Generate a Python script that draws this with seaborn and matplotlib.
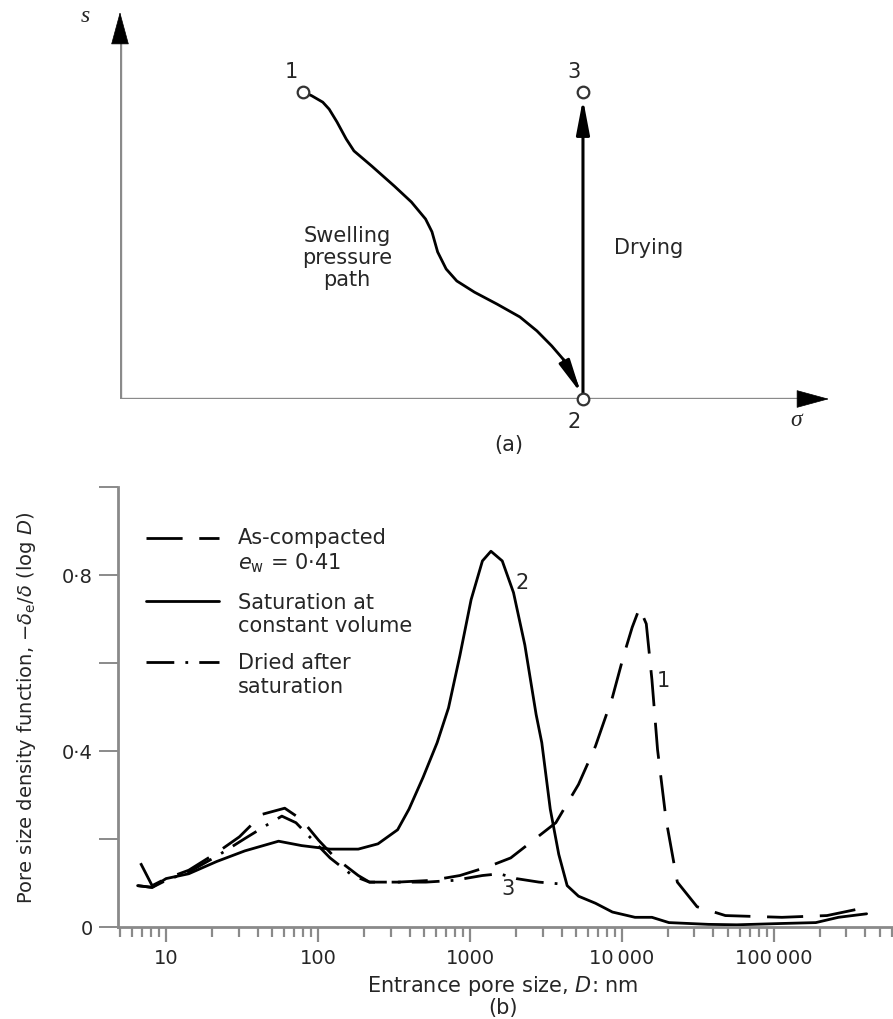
import numpy as np
import pandas as pd
import seaborn as sns
import matplotlib
matplotlib.use("Agg")
import matplotlib.pyplot as plt
from matplotlib.ticker import FixedLocator, FixedFormatter, LogLocator, NullFormatter
from matplotlib.legend_handler import HandlerLine2D

# ---- (a) swelling pressure / drying path, arbitrary units ----
path_sigma = [0.258, 0.270, 0.286, 0.295, 0.306, 0.319, 0.330, 0.355, 0.387, 0.411,
              0.431, 0.440, 0.448, 0.460, 0.475, 0.500, 0.532, 0.564, 0.588, 0.609,
              0.625, 0.637, 0.645]
path_s = [0.793, 0.784, 0.767, 0.749, 0.716, 0.672, 0.641, 0.602, 0.550, 0.509,
          0.465, 0.432, 0.380, 0.336, 0.305, 0.276, 0.245, 0.212, 0.176, 0.137,
          0.103, 0.070, 0.034]
point_names = ["1", "2", "3"]
point_sigma = [0.258, 0.653, 0.653]
point_s = [0.793, 0.0, 0.793]

# ---- (b) pore size density functions ----
d_compacted = [6.8, 8.1, 10, 14.1, 21.6, 30.4, 42.8, 60.4, 78, 101, 130, 184, 218, 334,
               558, 858, 1315, 1853, 2609, 3671, 5175, 6690, 8650, 10260, 11670, 13040,
               14450, 15740, 17140, 19500, 23130, 31200, 47900, 112800, 223400, 373000]
f_compacted = [0.145, 0.094, 0.110, 0.129, 0.169, 0.205, 0.256, 0.270, 0.244, 0.197,
               0.157, 0.117, 0.102, 0.102, 0.106, 0.117, 0.137, 0.157, 0.197, 0.237,
               0.324, 0.411, 0.522, 0.617, 0.681, 0.725, 0.689, 0.562, 0.403, 0.244,
               0.102, 0.046, 0.026, 0.022, 0.026, 0.042]

d_saturated = [6.5, 8.1, 10, 14.1, 21.6, 33, 55, 78, 120, 184, 248, 334, 397, 491, 608,
               722, 858, 1017, 1207, 1373, 1630, 1933, 2295, 2723, 2967, 3373, 3838,
               4358, 5175, 6690, 8650, 12180, 15740, 20360, 37070, 56900, 112800,
               188500, 265500, 407000]
f_saturated = [0.094, 0.090, 0.110, 0.121, 0.149, 0.173, 0.195, 0.185, 0.177, 0.177,
               0.189, 0.221, 0.268, 0.340, 0.419, 0.498, 0.617, 0.744, 0.832, 0.854,
               0.832, 0.760, 0.641, 0.483, 0.419, 0.268, 0.165, 0.094, 0.070, 0.054,
               0.034, 0.022, 0.022, 0.010, 0.006, 0.005, 0.008, 0.010, 0.022, 0.030]

d_dried = [6.5, 8.1, 10, 14.1, 21.6, 33, 46.7, 57.8, 71.6, 92.7, 120, 168.6, 218, 334,
           513, 787, 1207, 1561, 2018, 2843, 3900]
f_dried = [0.094, 0.090, 0.106, 0.125, 0.161, 0.201, 0.233, 0.252, 0.237, 0.197, 0.157,
           0.117, 0.102, 0.102, 0.102, 0.106, 0.117, 0.121, 0.110, 0.102, 0.098]

series_labels = ["As-compacted\n$e_{\\rm w}$ = 0·41",
                 "Saturation at\nconstant volume",
                 "Dried after\nsaturation"]
curve_tags = ["1", "2", "3"]
tag_d = [18600, 2198, 1780]
tag_f = [0.562, 0.784, 0.089]

x_major = [10, 100, 1000, 10000, 100000]
x_major_labels = ["10", "100", "1000", "10\u2009000", "100\u2009000"]
y_major = [0, 0.4, 0.8]
y_major_labels = ["0", "0·4", "0·8"]
y_minor = [0.2, 0.6, 1.0]

sns.set_style("ticks")
plt.rcParams["font.family"] = ["DejaVu Sans"]
plt.rcParams["mathtext.fontset"] = "dejavusans"
TXT = "#262626"
AX = "#8a8a8a"

W, H = 893, 1020
fig = plt.figure(figsize=(W / 100, H / 100), dpi=100)

# ================= panel (a) =================
ax_a = fig.add_axes([120 / W, 1 - 400 / H, 709 / W, 387 / H])
ax_a.set_xlim(0, 1)
ax_a.set_ylim(0, 1)
ax_a.axis("off")

# axes with arrow heads
for xy_end, xy_head in [((1.0, 0.0), (0.97, 0.0)), ((0.0, 1.0), (0.0, 0.94))]:
    ax_a.plot([0, xy_head[0]], [0, xy_head[1]], color=AX, lw=2.4, solid_capstyle="butt")
    ax_a.annotate("", xy=xy_end, xytext=xy_head,
                  arrowprops=dict(arrowstyle="-|>,head_length=2.2,head_width=0.6",
                                  color="black", lw=0.5, shrinkA=0, shrinkB=0,
                                  mutation_scale=10))

path_df = pd.DataFrame({"sigma": path_sigma, "s": path_s})
sns.lineplot(data=path_df, x="sigma", y="s", sort=False, color="black", lw=2.0,
             ax=ax_a, errorbar=None)
ax_a.annotate("", xy=(0.650, 0.015), xytext=(path_sigma[-3], path_s[-3]),
              arrowprops=dict(arrowstyle="-|>,head_length=2.0,head_width=0.35",
                              color="black", lw=2.0, shrinkA=0, shrinkB=0,
                              mutation_scale=10))
# drying path 2 -> 3
ax_a.annotate("", xy=(point_sigma[2], 0.775), xytext=(point_sigma[1], point_s[1]),
              arrowprops=dict(arrowstyle="-|>,head_length=2.1,head_width=0.4",
                              color="black", lw=2.2, shrinkA=0, shrinkB=0,
                              mutation_scale=10))

sns.scatterplot(x=point_sigma, y=point_s, ax=ax_a, s=70, facecolor="white",
                edgecolor="#333333", linewidth=1.6, zorder=5, clip_on=False)
name_off = {"1": (-0.017, 0.055), "2": (-0.013, -0.057), "3": (-0.013, 0.055)}
for nm, xs, ys in zip(point_names, point_sigma, point_s):
    dx, dy = name_off[nm]
    ax_a.text(xs + dx, ys + dy, nm, fontsize=15, color=TXT, ha="center", va="center")

ax_a.text(0.320, 0.367, "Swelling\npressure\npath", fontsize=15, color=TXT,
          ha="center", va="center", linespacing=1.1)
ax_a.text(0.746, 0.393, "Drying", fontsize=15, color=TXT, ha="center", va="center")
ax_a.text(0.953, -0.054, "σ", fontsize=17, color=TXT, ha="center", va="center",
          family="Liberation Serif", style="italic")
ax_a.text(-0.049, 0.990, "s", fontsize=17, color=TXT, ha="center", va="center",
          family="Liberation Serif", style="italic")
ax_a.text(0.549, -0.116, "(a)", fontsize=15, color=TXT, ha="center", va="center")

# ================= panel (b) =================
ax = fig.add_axes([118 / W, 1 - 928 / H, (W - 118) / W, 440 / H])
styles = [(0, (13, 6)), "-", (0, (10, 4, 1, 4))]
for (dd, ff), lab, ls in zip([(d_compacted, f_compacted), (d_saturated, f_saturated),
                              (d_dried, f_dried)], series_labels, styles):
    sns.lineplot(x=dd, y=ff, ax=ax, color="black", lw=2.0, linestyle=ls,
                 label=lab, errorbar=None)

ax.set_xscale("log")
ax.set_xlim(4.83, 6.07e5)
ax.set_ylim(0, 1.0)
ax.xaxis.set_major_locator(FixedLocator(x_major))
ax.xaxis.set_major_formatter(FixedFormatter(x_major_labels))
ax.xaxis.set_minor_locator(LogLocator(base=10, subs=np.arange(2, 10)))
ax.xaxis.set_minor_formatter(NullFormatter())
ax.yaxis.set_major_locator(FixedLocator(y_major))
ax.yaxis.set_major_formatter(FixedFormatter(y_major_labels))
ax.yaxis.set_minor_locator(FixedLocator(y_minor))

for side in ["top", "right"]:
    ax.spines[side].set_visible(False)
for side in ["left", "bottom"]:
    ax.spines[side].set_color(AX)
    ax.spines[side].set_linewidth(2.0)
ax.tick_params(axis="x", which="both", bottom=True, top=False)
ax.tick_params(axis="y", which="both", left=True, right=False)
ax.tick_params(axis="x", which="major", length=11, width=1.6, color=AX,
               labelsize=14, labelcolor=TXT, pad=4, direction="out")
ax.tick_params(axis="x", which="minor", length=7, width=1.6, color=AX, direction="out")
ax.tick_params(axis="y", which="both", length=14, width=1.4, color=AX,
               labelsize=14, labelcolor=TXT, pad=4, direction="out")

ax.set_ylabel("Pore size density function, $-\\delta_{\\rm e}/\\delta$ (log $D$)",
              fontsize=14, color=TXT)
ax.yaxis.set_label_coords(-0.103, 0.5)
ax.set_xlabel("Entrance pore size, $D$: nm", fontsize=15, color=TXT)
ax.xaxis.set_label_coords(0.497, -0.105)
ax.text(0.497, -0.182, "(b)", transform=ax.transAxes, fontsize=15, color=TXT,
        ha="center", va="center")

for tg, xd, yf in zip(curve_tags, tag_d, tag_f):
    ax.text(xd, yf, tg, fontsize=15, color=TXT, ha="center", va="center")


class FirstLineHandler(HandlerLine2D):
    # keep the legend key level with the first line of a two-line label
    def create_artists(self, legend, orig_handle, xdescent, ydescent, width, height,
                       fontsize, trans):
        arts = super().create_artists(legend, orig_handle, xdescent, ydescent, width,
                                      height, fontsize, trans)
        for a in arts:
            a.set_ydata(np.asarray(a.get_ydata()) + 0.6 * fontsize)
        return arts


handles, labels = ax.get_legend_handles_labels()
leg = ax.legend(handles, labels, loc="upper left", bbox_to_anchor=(0.036, 0.91),
                frameon=False, fontsize=15, handlelength=3.5, handletextpad=0.9,
                labelspacing=0.85, borderpad=0, borderaxespad=0,
                handler_map={h: FirstLineHandler() for h in handles})
for t in leg.get_texts():
    t.set_color(TXT)

fig.savefig("out.png", dpi=100)
